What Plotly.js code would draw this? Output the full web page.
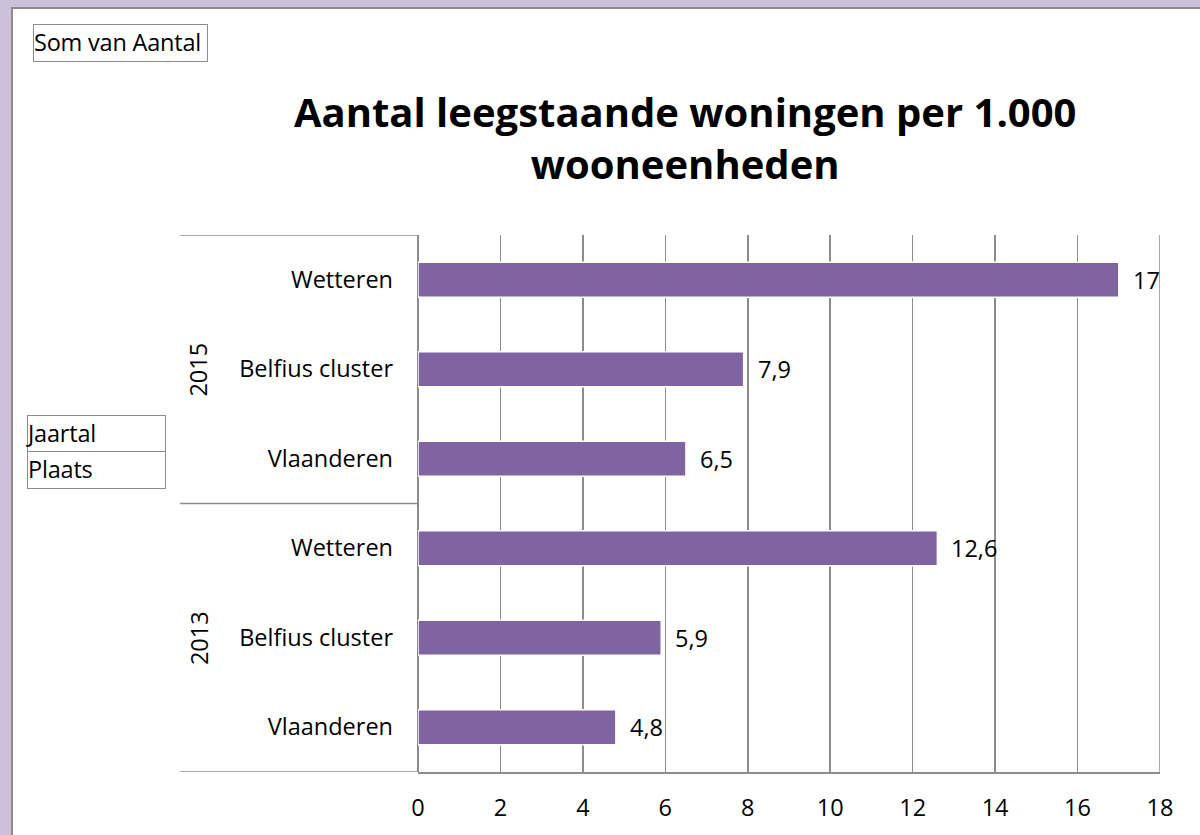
<!DOCTYPE html>
<html>
<head>
<meta charset="utf-8">
<script src="https://cdn.plot.ly/plotly-3.0.1.min.js"></script>
<style>
  html, body { margin:0; padding:0; width:1200px; height:835px; overflow:hidden; background:#CCC0DA; }
  #frame { position:absolute; left:11px; top:7px; width:1189px; height:828px; background:#fff; border-left:2px solid #8c8c8c; border-top:2px solid #8c8c8c; box-sizing:border-box; }
  #chart { position:absolute; left:0; top:0; width:1200px; height:835px; }
  .box { position:absolute; border:1.5px solid #8c8c8c; box-sizing:border-box; font-family:"Open Sans", sans-serif; font-size:23.5px; color:#000; line-height:34px; padding-left:0px; background:#fff; z-index:5; white-space:nowrap; overflow:visible; letter-spacing:-0.2px; }
</style>
</head>
<body>
<div id="frame"></div>
<div id="chart"></div>
<div class="box" style="left:33px; top:24px; width:175px; height:38px;">Som van Aantal</div>
<div class="box" style="left:27px; top:415px; width:139px; height:38px;">Jaartal</div>
<div class="box" style="left:27px; top:451px; width:139px; height:38px;">Plaats</div>
<script>
const years  = ['2015', '2015', '2015', '2013', '2013', '2013'];
const places = ['Wetteren', 'Belfius cluster', 'Vlaanderen', 'Wetteren', 'Belfius cluster', 'Vlaanderen'];
const values = [17, 7.9, 6.5, 12.6, 5.9, 4.8];
const xTicks = [0, 2, 4, 6, 8, 10, 12, 14, 16, 18];

const FONT = '"Open Sans", sans-serif';
const FS = 23.5;
const keys = years.map((y, i) => y + ' | ' + places[i]);
const labels = values.map(v => String(v).replace('.', ','));

const trace = {
  type: 'bar',
  orientation: 'h',
  x: values,
  y: keys,
  marker: { color: '#8064A2', line: { color: '#ffffff', width: 1.5 } },
  hoverinfo: 'x+y'
};

const annotations = [];
values.forEach((v, i) => {
  annotations.push({
    x: v, y: keys[i], xref: 'x', yref: 'y',
    text: labels[i], showarrow: false, xanchor: 'left', xshift: 12,
    font: { family: FONT, size: FS, color: '#000' }
  });
});

// year group labels (rotated), centred on their groups
const uniqYears = [...new Set(years)];
const groupBounds = [];
uniqYears.forEach(yr => {
  const idx = years.map((y, i) => y === yr ? i : -1).filter(i => i >= 0);
  const c = (idx[0] + idx[idx.length - 1]) / 2;
  annotations.push({
    x: -0.296, xref: 'paper', y: c, yref: 'y',
    xanchor: 'center', yanchor: 'middle',
    text: yr, showarrow: false, textangle: -90,
    font: { family: FONT, size: FS, color: '#000' }
  });
  groupBounds.push(idx[0] - 0.5, idx[idx.length - 1] + 0.5);
});

const lineStyle = { color: '#8c8c8c', width: 1.5 };
const shapes = [];
[...new Set(groupBounds)].forEach(b => {
  shapes.push({ type: 'line', xref: 'paper', yref: 'y', x0: -0.3208, x1: 0, y0: b, y1: b, line: lineStyle, layer: 'above' });
});
shapes.push({ type: 'line', xref: 'x', yref: 'paper', x0: 18, x1: 18, y0: 0, y1: 1, line: lineStyle });

const layout = {
  width: 1200, height: 835,
  paper_bgcolor: 'rgba(0,0,0,0)', plot_bgcolor: 'rgba(0,0,0,0)',
  margin: { l: 418, r: 40, t: 235, b: 63 },
  font: { family: FONT, size: FS, color: '#000' },
  title: {
    text: 'Aantal leegstaande woningen per 1.000<br>wooneenheden',
    font: { family: FONT, size: 40, color: '#000', weight: 'bold' },
    xref: 'container', x: 0.571, xanchor: 'center',
    yref: 'container', y: 0.848, yanchor: 'middle'
  },
  xaxis: {
    range: [0, 18], tickvals: xTicks, ticktext: xTicks.map(String),
    showgrid: true, gridcolor: '#8c8c8c', gridwidth: 1.5,
    zeroline: true, zerolinecolor: '#8c8c8c', zerolinewidth: 1.5,
    showline: true, linecolor: '#8c8c8c', linewidth: 1.5,
    ticks: '', ticklabelstandoff: 14,
    tickfont: { family: FONT, size: FS, color: '#000' },
    fixedrange: true
  },
  yaxis: {
    type: 'category', categoryorder: 'array', categoryarray: keys,
    tickvals: keys, ticktext: places,
    range: [5.5, -0.5],
    showgrid: false, zeroline: false, showline: false,
    ticks: '', ticklabelstandoff: 24,
    tickfont: { family: FONT, size: FS, color: '#000' },
    fixedrange: true
  },
  bargap: 0.61,
  showlegend: false,
  annotations: annotations,
  shapes: shapes
};

Plotly.newPlot('chart', [trace], layout, { displayModeBar: false, staticPlot: true });
</script>
</body>
</html>
